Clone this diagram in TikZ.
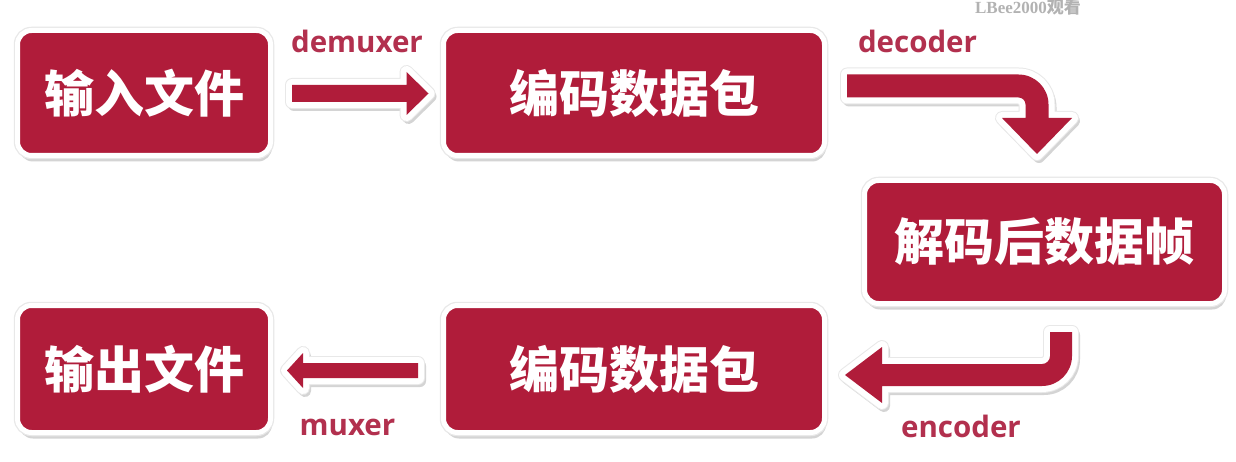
\documentclass[tikz,border=0pt]{standalone}
\usepackage{fontspec}
\newfontfamily\cjk{Noto Sans CJK SC}
\newfontfamily\lblfont{Open Sans}
\newfontfamily\wmfont{Liberation Serif}
\usetikzlibrary{calc,shadows}
\definecolor{boxred}{RGB}{176,28,58}
\definecolor{lblred}{RGB}{178,48,78}
\definecolor{wmgray}{RGB}{178,178,178}
\definecolor{shadowgray}{RGB}{212,212,212}
\definecolor{halogray}{RGB}{232,232,232}
\tikzset{
  box/.style={rectangle, rounded corners=14pt, fill=boxred, draw=white, line width=5pt,
    inner sep=0pt, outer sep=0pt, text=white,
    font=\cjk\bfseries\fontsize{50}{50}\selectfont,
    drop shadow={shadow xshift=1.5pt, shadow yshift=-6pt, opacity=1, fill=shadowgray},
    preaction={draw=halogray, line width=7.5pt}},
  flowlabel/.style={text=lblred, font=\lblfont\bfseries\fontsize{29.5}{29.5}\selectfont,
    anchor=base, inner sep=0pt},
  arrshadow/.style={fill=shadowgray, draw=shadowgray, line width=12pt, line join=round,
    transform canvas={xshift=2pt,yshift=-3pt}},
  arrhalo/.style={fill=halogray, draw=halogray, line width=14pt, line join=round},
  arrwhite/.style={fill=white, draw=white, line width=12pt, line join=round},
  arrred/.style={fill=boxred},
}
\newcommand\fatarrow[1]{\path[arrshadow] #1; \path[arrhalo] #1; \path[arrwhite] #1; \path[arrred] #1;}
\begin{document}
\begin{tikzpicture}[x=1pt,y=-1pt]
\useasboundingbox (0,0) rectangle (1236,462);
\fill[white] (0,0) rectangle (1236,462);

% watermark
\node[font=\wmfont\bfseries\fontsize{17}{17}\selectfont, text=wmgray, anchor=base, inner sep=0pt]
  (wm) at (1028,14) {LBee2000{\cjk 观看}};

% boxes
\node[box, minimum width=253pt, minimum height=125pt] (in)    at (144,93)    {输入文件};
\node[box, minimum width=381pt, minimum height=125pt] (pkt1)  at (634,93)    {编码数据包};
\node[box, minimum width=360pt, minimum height=123pt] (frame) at (1044.5,242) {解码后数据帧};
\node[box, minimum width=381pt, minimum height=127pt] (pkt2)  at (634,369)   {编码数据包};
\node[box, minimum width=253pt, minimum height=127pt] (out)   at (144,369)   {输出文件};

% demuxer arrow
\coordinate (dmS) at ($(in.east)+(21.5,0.5)$);
\coordinate (dmT) at ($(pkt1.west)+(-15,0.5)$);
\fatarrow{($(dmS)+(0,-8.5)$) -- ($(dmT)+(-22,-8.5)$) -- ($(dmT)+(-22,-21.5)$) -- (dmT)
  -- ($(dmT)+(-22,21.5)$) -- ($(dmT)+(-22,8.5)$) -- ($(dmS)+(0,8.5)$) -- cycle}

% decoder arrow
\coordinate (dS) at ($(pkt1.east)+(22.5,-7)$);
\coordinate (dT) at ($(frame.north)+(-7.5,-26.5)$);
\coordinate (dC) at (dT |- dS);
\fatarrow{($(dS)+(0,-11.5)$) -- ($(dC)+(-18.5,-11.5)$)
  .. controls ($(dC)+(-1.94,-11.5)$) and ($(dC)+(11.5,1.94)$) .. ($(dC)+(11.5,18.5)$)
  -- ($(dT)+(11.5,-36)$) -- ($(dT)+(35,-36)$) -- (dT) -- ($(dT)+(-35,-36)$)
  -- ($(dT)+(-11.5,-36)$) -- ($(dC)+(-11.5,18.5)$)
  .. controls ($(dC)+(-11.5,14.64)$) and ($(dC)+(-14.64,11.5)$) .. ($(dC)+(-18.5,11.5)$)
  -- ($(dS)+(0,11.5)$) -- cycle}

% encoder arrow
\coordinate (eS) at ($(frame.south)+(16.5,28.5)$);
\coordinate (eT) at ($(pkt2.east)+(20.5,6)$);
\coordinate (eC) at (eS |- eT);
\fatarrow{($(eS)+(-11,0)$) -- ($(eS)+(11,0)$) -- ($(eC)+(11,-19)$)
  .. controls ($(eC)+(11,-2.44)$) and ($(eC)+(-2.44,11)$) .. ($(eC)+(-19,11)$)
  -- ($(eT)+(37,11)$) -- ($(eT)+(37,28)$) -- (eT) -- ($(eT)+(37,-28)$)
  -- ($(eT)+(37,-11)$) -- ($(eC)+(-19,-11)$)
  .. controls ($(eC)+(-14.58,-11)$) and ($(eC)+(-11,-14.58)$) .. ($(eC)+(-11,-19)$)
  -- cycle}

% muxer arrow
\coordinate (mS) at ($(pkt2.west)+(-25.5,1.5)$);
\coordinate (mT) at ($(out.east)+(16.5,1.5)$);
\fatarrow{($(mS)+(0,-7.5)$) -- ($(mT)+(16,-7.5)$) -- ($(mT)+(16,-17.5)$) -- (mT)
  -- ($(mT)+(16,17.5)$) -- ($(mT)+(16,7.5)$) -- ($(mS)+(0,7.5)$) -- cycle}

% labels
\node[flowlabel] (ldemux) at (357,53)   {demuxer};
\node[flowlabel] (ldec)   at (917.5,53) {decoder};
\node[flowlabel] (lenc)   at (961,437)  {encoder};
\node[flowlabel] (lmux)   at (347.5,435) {muxer};
\end{tikzpicture}
\end{document}
